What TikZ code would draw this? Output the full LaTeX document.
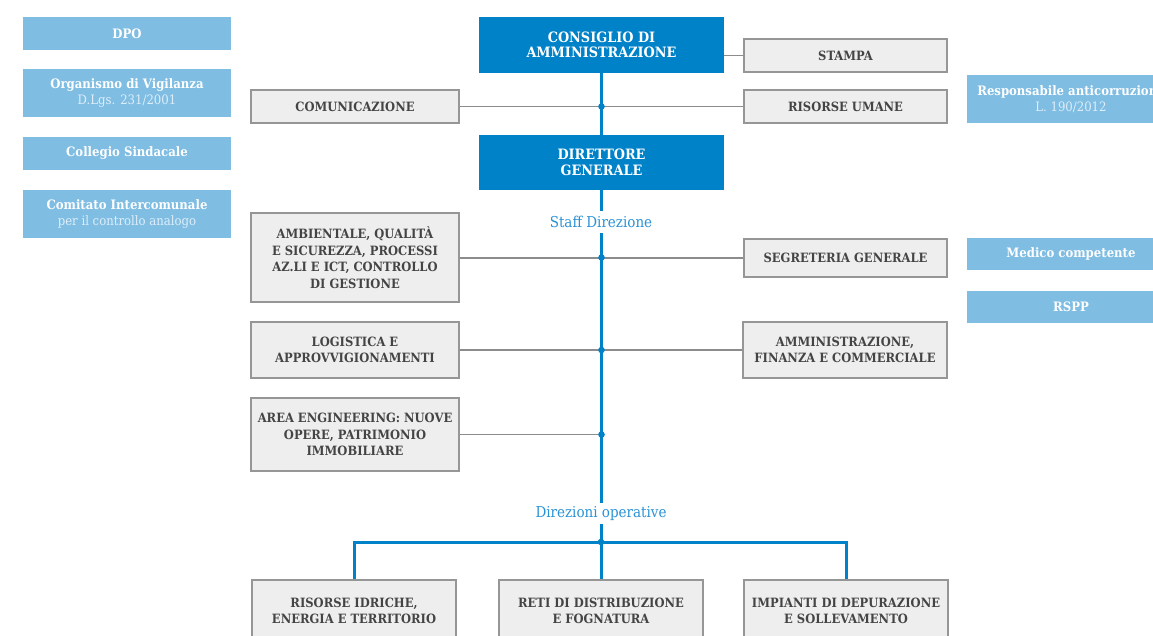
\documentclass[tikz,border=0pt]{standalone}
\usepackage{fontspec}
\setmainfont{DejaVu Serif Condensed}
\definecolor{dblue}{RGB}{0,130,201}
\definecolor{lblue}{RGB}{127,189,227}
\definecolor{lsub}{RGB}{222,238,249}
\definecolor{gfill}{RGB}{238,238,238}
\definecolor{gborder}{RGB}{150,150,150}
\definecolor{gtext}{RGB}{68,68,68}
\definecolor{gline}{RGB}{140,140,140}
\definecolor{tblue}{RGB}{41,146,214}
\tikzset{
  gbox/.style={draw=gborder, fill=gfill, line width=1.2pt, inner sep=0pt, align=center,
    font=\bfseries\fontsize{12.8}{16.5}\selectfont, text=gtext},
  bbox/.style={fill=dblue, inner sep=0pt, align=center, text=white,
    font=\bfseries\fontsize{14.3}{15.5}\selectfont},
  lbox/.style={fill=lblue, inner sep=0pt, align=center, text=white,
    font=\bfseries\fontsize{13}{16}\selectfont, minimum width=208pt},
  lbl/.style={inner sep=0pt, text=tblue, font=\fontsize{15}{17}\selectfont},
  bline/.style={draw=dblue, line width=3pt},
  glinestyle/.style={draw=gline, line width=1.3pt},
  jdot/.style={fill=dblue}
}
\newcommand{\subl}[1]{{\mdseries\color{lsub}#1}}
\begin{document}
\begin{tikzpicture}[x=1pt,y=-1pt]
\clip (0,0) rectangle (1153,635);
\fill[white] (0,0) rectangle (1153,635);
% left light-blue boxes
\node[lbox, minimum height=33pt] (dpo) at (127,33.5) {DPO};
\node[lbox, minimum height=48pt] (odv) at (127,93) {Organismo di Vigilanza\\\subl{D.Lgs. 231/2001}};
\node[lbox, minimum height=33pt] (cs) at (127,153.5) {Collegio Sindacale};
\node[lbox, minimum height=48pt] (ci) at (127,214) {Comitato Intercomunale\\\subl{per il controllo analogo}};
% right light-blue boxes
\node[lbox, minimum height=48pt] (rac) at (1071,99) {Responsabile anticorruzione\\\subl{L. 190/2012}};
\node[lbox, minimum height=32pt] (mc) at (1071,254) {Medico competente};
\node[lbox, minimum height=32pt] (rspp) at (1071,307) {RSPP};
% top blue boxes
\node[bbox, minimum width=245pt, minimum height=56pt] (cda) at (601.5,45) {CONSIGLIO DI\\AMMINISTRAZIONE};
\node[bbox, minimum width=245pt, minimum height=55pt] (dg) at (601.5,162.5) {DIRETTORE\\GENERALE};
% gray boxes
\node[gbox, minimum width=203pt, minimum height=33pt] (st) at (845.5,55.5) {STAMPA};
\node[gbox, minimum width=208pt, minimum height=33pt] (com) at (355,106.5) {COMUNICAZIONE};
\node[gbox, minimum width=203pt, minimum height=33pt] (ru) at (845.5,106.5) {RISORSE UMANE};
\node[gbox, minimum width=208pt, minimum height=89pt] (amb) at (355,257.5) {AMBIENTALE, QUALITÀ\\E SICUREZZA, PROCESSI\\AZ.LI E ICT, CONTROLLO\\DI GESTIONE};
\node[gbox, minimum width=203pt, minimum height=38pt] (seg) at (845.5,258) {SEGRETERIA GENERALE};
\node[gbox, minimum width=208pt, minimum height=56pt] (log) at (355,350) {LOGISTICA E\\APPROVVIGIONAMENTI};
\node[gbox, minimum width=204pt, minimum height=56pt] (afc) at (845,350) {AMMINISTRAZIONE,\\FINANZA E COMMERCIALE};
\node[gbox, minimum width=208pt, minimum height=73pt] (eng) at (355,434.5) {AREA ENGINEERING: NUOVE\\OPERE, PATRIMONIO\\IMMOBILIARE};
\node[gbox, minimum width=204pt, minimum height=62pt] (b1) at (354,611) {RISORSE IDRICHE,\\ENERGIA E TERRITORIO};
\node[gbox, minimum width=204pt, minimum height=62pt] (b2) at (601,611) {RETI DI DISTRIBUZIONE\\E FOGNATURA};
\node[gbox, minimum width=204pt, minimum height=62pt] (b3) at (846,611) {IMPIANTI DI DEPURAZIONE\\E SOLLEVAMENTO};
% labels
\node[lbl, minimum height=22pt] (staff) at (601,222) {Staff Direzione};
\node[lbl, minimum height=21pt] (dirop) at (601,513.5) {Direzioni operative};
% junction coordinates
\coordinate (j1) at (dg.north |- com.east);
\coordinate (j2) at (dg.south |- amb.east);
\coordinate (j3) at (dg.south |- log.east);
\coordinate (j4) at (dg.south |- eng.east);
\coordinate (jb) at (601,542);
% gray connectors
\draw[glinestyle] (st.west) -- (st.west -| cda.east);
\draw[glinestyle] (com.east) -- (ru.west);
\draw[glinestyle] (amb.east |- seg.west) -- (seg.west);
\draw[glinestyle] (log.east) -- (afc.west);
\draw[glinestyle] (eng.east) -- (j4);
% blue trunk
\draw[bline] (cda.south) -- (dg.north);
\draw[bline] (dg.south) -- (dg.south |- staff.north);
\draw[bline] (staff.south) -- (dirop.north);
\draw[bline] (dirop.south) -- (jb);
\draw[bline] (b1.north) |- (jb) -| (b3.north);
\draw[bline] (jb) -- (b2.north);
% dots
\foreach \p in {j1,j2,j3,j4,jb} \fill[jdot] (\p) circle (3.3pt);
\end{tikzpicture}
\end{document}
